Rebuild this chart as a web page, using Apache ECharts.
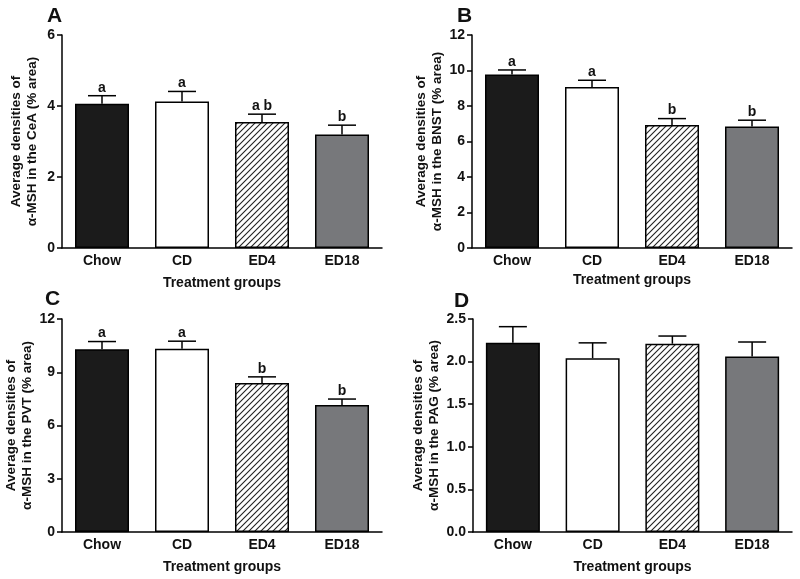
<!DOCTYPE html>
<html><head><meta charset="utf-8">
<script src="https://cdn.jsdelivr.net/npm/echarts@6/dist/echarts.min.js"></script>
<style>html,body{margin:0;padding:0;background:#fff}#c{width:800px;height:579px}</style>
</head><body><div id="c"></div>
<script>
var categories = ['Chow', 'CD', 'ED4', 'ED18'];

var aMeans = [4.06, 4.13, 3.55, 3.20];
var aErr = [0.23, 0.28, 0.22, 0.26];
var aLetters = ['a', 'a', 'a b', 'b'];

var bMeans = [9.77, 9.07, 6.93, 6.84];
var bErr = [0.26, 0.38, 0.36, 0.36];
var bLetters = ['a', 'a', 'b', 'b'];

var cMeans = [10.30, 10.33, 8.40, 7.16];
var cErr = [0.43, 0.42, 0.34, 0.33];
var cLetters = ['a', 'a', 'b', 'b'];

var dMeans = [2.22, 2.04, 2.21, 2.06];
var dErr = [0.19, 0.18, 0.09, 0.17];
var dLetters = ['', '', '', ''];

var panelLetters = ['A', 'B', 'C', 'D'];
var yNames = [
  'Average densities of\nα-MSH in the CeA (% area)',
  'Average densities of\nα-MSH in the BNST (% area)',
  'Average densities of\nα-MSH in the PVT (% area)',
  'Average densities of\nα-MSH in the PAG (% area)'
];
var yMax = [6, 12, 12, 2.5];
var yInterval = [2, 2, 3, 0.5];
var xName = 'Treatment groups';

// hatch pattern
var hc = document.createElement('canvas');
hc.width = 6; hc.height = 6;
var hx = hc.getContext('2d');
hx.fillStyle = '#fff'; hx.fillRect(0, 0, 6, 6);
hx.strokeStyle = '#222'; hx.lineWidth = 1.1;
hx.beginPath();
hx.moveTo(-1, 7); hx.lineTo(7, -1);
hx.moveTo(-4, 4); hx.lineTo(4, -4);
hx.moveTo(2, 10); hx.lineTo(10, 2);
hx.stroke();

var fills = ['#1b1b1b', '#ffffff', {image: hc, repeat: 'repeat'}, '#77787b'];

var FONT = 'Liberation Sans, Arial, Helvetica, sans-serif';
var grids = [
  {left: 62, top: 35, width: 320, height: 213},
  {left: 472, top: 35, width: 320, height: 213},
  {left: 62, top: 319, width: 320, height: 213},
  {left: 473, top: 319, width: 319, height: 213}
];
var xNameGaps = [28, 25, 28, 28];
var yNameGaps = [22, 22, 22, 27];
var letterPos = [[47, 6], [457, 6], [45, 289], [454, 291]];

var panels = [
  [aMeans, aErr, aLetters], [bMeans, bErr, bLetters],
  [cMeans, cErr, cLetters], [dMeans, dErr, dLetters]
];

var xAxes = [], yAxes = [], series = [], titles = [];
grids.forEach(function (g, i) {
  xAxes.push({
    type: 'category', gridIndex: i, data: categories,
    axisLine: {lineStyle: {color: '#000', width: 1.5}},
    axisTick: {show: false},
    axisLabel: {color: '#111', fontFamily: FONT, fontWeight: 'bold', fontSize: 14, margin: 6},
    name: xName, nameLocation: 'middle', nameGap: xNameGaps[i],
    nameTextStyle: {color: '#111', fontFamily: FONT, fontWeight: 'bold', fontSize: 14}
  });
  yAxes.push({
    type: 'value', gridIndex: i, min: 0, max: yMax[i], interval: yInterval[i],
    splitLine: {show: false},
    axisLine: {show: true, lineStyle: {color: '#000', width: 1.5}},
    axisTick: {show: true, inside: false, length: 5, lineStyle: {color: '#000', width: 1.5}},
    axisLabel: {color: '#111', fontFamily: FONT, fontWeight: 'bold', fontSize: 14, margin: 7,
      formatter: function (v) { return i === 3 ? v.toFixed(1) : String(v); }},
    name: yNames[i], nameLocation: 'middle', nameGap: yNameGaps[i], nameRotate: 90,
    nameTextStyle: {color: '#111', fontFamily: FONT, fontWeight: 'bold', fontSize: 13.5, lineHeight: 16}
  });
  var means = panels[i][0], errs = panels[i][1];
  series.push({
    type: 'bar', xAxisIndex: i, yAxisIndex: i, barWidth: 54,
    data: means.map(function (m, k) {
      return {value: m, itemStyle: {color: fills[k], borderColor: '#000', borderWidth: 1.5}};
    }),
    silent: true, z: 2
  });
  series.push({
    type: 'custom', xAxisIndex: i, yAxisIndex: i, silent: true, z: 3,
    data: means.map(function (m, k) { return [k, m, errs[k]]; }),
    renderItem: function (params, api) {
      var x = api.value(0), m = api.value(1), e = api.value(2);
      var p0 = api.coord([x, m]);
      var p1 = api.coord([x, m + e]);
      var lt = panels[i][2][params.dataIndex];
      var ch = [
        {type: 'line', shape: {x1: p0[0], y1: p0[1], x2: p1[0], y2: p1[1]}, style: {stroke: '#000', lineWidth: 1.5}},
        {type: 'line', shape: {x1: p1[0] - 14, y1: p1[1], x2: p1[0] + 14, y2: p1[1]}, style: {stroke: '#000', lineWidth: 1.5}}
      ];
      if (lt) {
        ch.push({type: 'text', style: {text: lt, x: p1[0], y: p1[1] - 1, align: 'center', verticalAlign: 'bottom',
          fill: '#111', font: 'bold 14px ' + FONT}});
      }
      return {type: 'group', children: ch};
    }
  });
  titles.push({text: panelLetters[i], left: letterPos[i][0], top: letterPos[i][1], padding: 0,
    textStyle: {color: '#111', fontFamily: FONT, fontWeight: 'bold', fontSize: 21}});
});

var chart = echarts.init(document.getElementById('c'), null, {renderer: 'canvas'});
chart.setOption({
  animation: false,
  backgroundColor: '#fff',
  title: titles,
  grid: grids,
  xAxis: xAxes,
  yAxis: yAxes,
  series: series
});
</script>
</body></html>
